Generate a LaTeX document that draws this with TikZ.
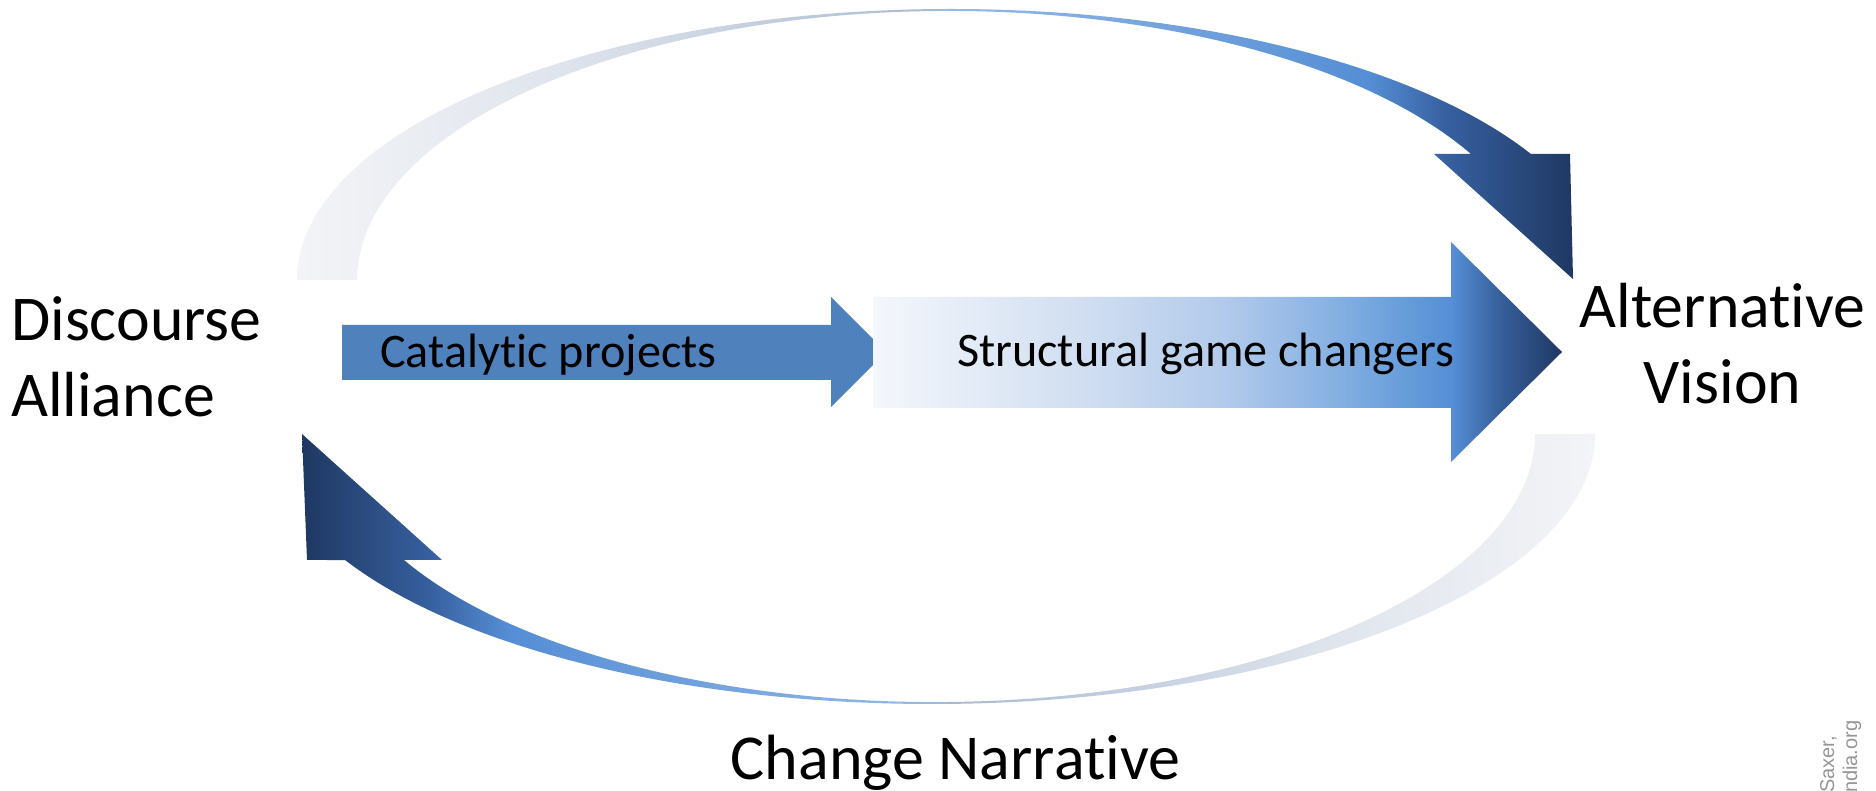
\documentclass[tikz,border=0pt]{standalone}
\usepackage{fontspec}
\setmainfont{Carlito}[Ligatures=NoCommon]
\newfontfamily\wmfont{Liberation Sans}
% arc gradient colours
\definecolor{a0}{RGB}{243,244,247}
\definecolor{a1}{RGB}{224,229,237}
\definecolor{a2}{RGB}{182,196,216}
\definecolor{a3}{RGB}{168,183,207}
\definecolor{a4}{RGB}{150,188,232}
\definecolor{a5}{RGB}{122,167,223}
\definecolor{a6}{RGB}{85,142,213}
\definecolor{a7}{RGB}{55,96,160}
\definecolor{a8}{RGB}{31,56,98}
% structural arrow gradient colours
\definecolor{s0}{RGB}{244,247,252}
\definecolor{s1}{RGB}{208,222,241}
\definecolor{s2}{RGB}{178,202,235}
\definecolor{s3}{RGB}{140,180,228}
\definecolor{s4}{RGB}{100,155,218}
\definecolor{s5}{RGB}{85,142,213}
\definecolor{s6}{RGB}{55,95,155}
\definecolor{s7}{RGB}{31,56,98}
\definecolor{catblue}{RGB}{79,129,189}
\definecolor{wmgray}{RGB}{150,150,150}
\pgfdeclarehorizontalshading{arcL}{100bp}{color(0bp)=(a0); color(25bp)=(a0); color(35bp)=(a1); color(47bp)=(a2); color(50bp)=(a3); color(50.4bp)=(a4); color(57.5bp)=(a5); color(67bp)=(a6); color(70bp)=(a7); color(75bp)=(a8); color(100bp)=(a8)}
\pgfdeclarehorizontalshading{arcR}{100bp}{color(0bp)=(a8); color(25bp)=(a8); color(30bp)=(a7); color(33bp)=(a6); color(42.5bp)=(a5); color(49.6bp)=(a4); color(50bp)=(a3); color(53bp)=(a2); color(65bp)=(a1); color(75bp)=(a0); color(100bp)=(a0)}
\pgfdeclarehorizontalshading{structshade}{100bp}{color(0bp)=(s0); color(25bp)=(s0); color(40.5bp)=(s1); color(50.5bp)=(s2); color(57.5bp)=(s3); color(64bp)=(s4); color(67bp)=(s5); color(70.5bp)=(s6); color(75bp)=(s7); color(100bp)=(s7)}
\begin{document}
\begin{tikzpicture}[x=1pt,y=1pt,
  biglbl/.style={inner sep=0pt, text=black, font=\fontsize{63.8}{77}\selectfont},
  arrlbl/.style={inner sep=0pt, text=black, font=\fontsize{48.2}{57}\selectfont},
  wmlbl/.style={inner sep=0pt, text=wmgray, font=\wmfont\fontsize{20}{23}\selectfont}]
\useasboundingbox (0,0) rectangle (1876,790);
\fill[white] (0,0) rectangle (1876,790);
\clip (0,0) rectangle (1876,790);

% upper curved arrow (Discourse Alliance -> Alternative Vision)
\shade[shading=arcL] (297,510)
  arc[start angle=180, end angle=27.71, x radius=654.5pt, y radius=271pt]
  -- (1570,636) -- (1573,511) -- (1434,636) -- (1471,636)
  arc[start angle=27.93, end angle=180, x radius=591.4pt, y radius=269pt]
  -- cycle;

% lower curved arrow (Alternative Vision -> Discourse Alliance)
\shade[shading=arcR] (1595,356)
  arc[start angle=0, end angle=-152.18, x radius=663.3pt, y radius=270pt]
  -- (307,230) -- (302,356) -- (442,230) -- (404,230)
  arc[start angle=-151.96, end angle=0, x radius=600.8pt, y radius=268pt]
  -- cycle;

% Catalytic projects arrow
\fill[catblue] (342,465) -- (831,465) -- (831,493) -- (886,438)
  -- (831,383) -- (831,410) -- (342,410) -- cycle;
% Structural game changers arrow
\shade[shading=structshade] (873,493) -- (1451,493) -- (1451,548) -- (1562,438)
  -- (1451,328) -- (1451,382) -- (873,382) -- cycle;

% labels
\node[arrlbl, anchor=base west] (cat) at (380,422.5) {Catalytic projects};
\node[arrlbl, anchor=base west] (struct) at (957,423.3) {Structural game changers};

\node[biglbl, anchor=base west] (disc) at (11,449.5) {Discourse};
\node[biglbl, anchor=base west] (alli) at (11,373.5) {Alliance};

\node[biglbl, anchor=base] (alt) at (1722.5,462.5) {Alternative};
\node[biglbl, anchor=base] (vis) at (1722.5,386.5) {Vision};

\node[biglbl, font=\fontsize{64}{77}\selectfont, anchor=base] (chg) at (955.5,11) {Change Narrative};

% cut-off credit text
\node[wmlbl, rotate=90, anchor=base west] (wm1) at (1834,-3) {Saxer,};
\node[wmlbl, rotate=90, anchor=base west] (wm2) at (1857,-3) {ndia.org};
\end{tikzpicture}
\end{document}
